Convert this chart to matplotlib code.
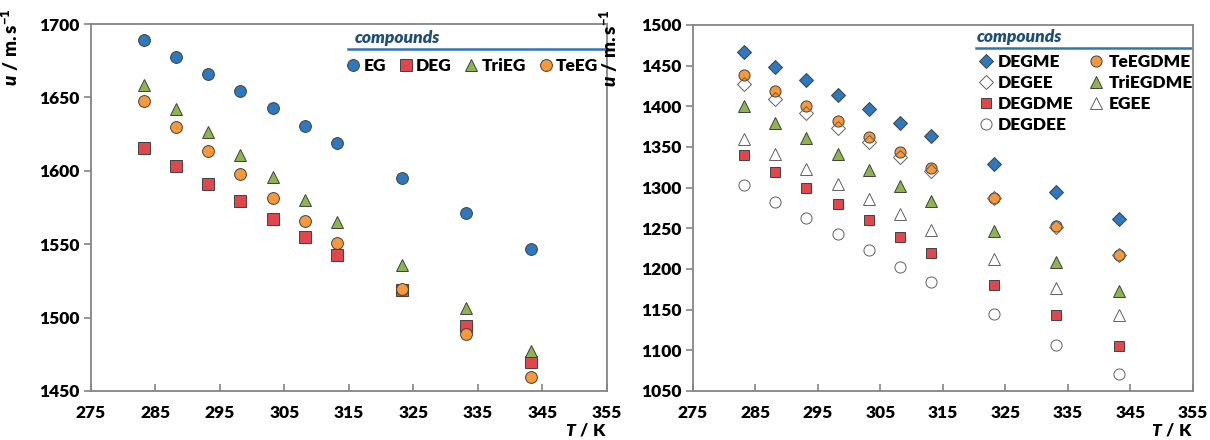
import matplotlib
matplotlib.use("Agg")
import matplotlib.pyplot as plt

plt.rcParams['font.family'] = ['Lato', 'DejaVu Sans']
plt.rcParams['font.weight'] = 'heavy'
plt.rcParams['mathtext.fontset'] = 'custom'
plt.rcParams['mathtext.rm'] = 'Lato:heavy'
plt.rcParams['mathtext.it'] = 'Lato:italic:heavy'
plt.rcParams['mathtext.bf'] = 'Lato:heavy'

# temperatures (K)
T = [283.15, 288.15, 293.15, 298.15, 303.15, 308.15, 313.15, 323.15, 333.15, 343.15]

# left panel: speed of sound (m/s)
EG = [1689.3, 1677.6, 1666.0, 1654.1, 1642.5, 1630.8, 1618.7, 1595.0, 1571.2, 1547.0]
DEG = [1615.3, 1603.2, 1591.1, 1579.2, 1566.9, 1554.8, 1542.7, 1518.5, 1494.1, 1469.9]
TriEG = [1658.2, 1642.2, 1626.7, 1611.0, 1595.7, 1580.4, 1565.3, 1535.6, 1506.4, 1477.2]
TeEG = [1647.5, 1630.1, 1613.7, 1597.7, 1581.7, 1565.8, 1550.5, 1519.6, 1489.0, 1459.4]

# right panel
DEGME = [1467.0, 1448.8, 1431.9, 1414.1, 1397.2, 1379.8, 1362.9, 1329.1, 1295.2, 1261.3]
DEGEE = [1427.7, 1408.7, 1391.4, 1373.6, 1355.9, 1337.7, 1320.4, 1287.4, 1251.9, 1217.6]
DEGDME = [1340.2, 1319.2, 1299.3, 1279.5, 1259.7, 1239.5, 1219.6, 1180.8, 1142.8, 1105.3]
DEGDEE = [1302.6, 1282.4, 1262.6, 1242.7, 1222.9, 1202.7, 1183.7, 1144.9, 1106.9, 1071.4]
TeEGDME = [1438.9, 1419.1, 1400.1, 1381.5, 1362.5, 1343.5, 1324.1, 1287.8, 1252.3, 1217.6]
TriEGDME = [1399.7, 1379.9, 1360.9, 1341.0, 1321.6, 1302.2, 1283.2, 1246.5, 1208.1, 1173.4]
EGEE = [1360.0, 1341.0, 1322.9, 1304.7, 1285.7, 1267.1, 1248.5, 1212.6, 1177.1, 1142.8]

blue = '#2E78BE'
red = '#E0474C'
green = '#8AB550'
orange = '#F7993A'
edge = '#404040'
spine_col = '#858585'
title_col = '#1F4E79'
line_col = '#2E75B6'

fig = plt.figure(figsize=(12.1, 4.4), dpi=100)
ax1 = fig.add_axes([0.0752, 0.1114, 0.4264, 0.834])
ax2 = fig.add_axes([0.5727, 0.1114, 0.4132, 0.832])

def style_axes(ax, ylo, yhi):
	ax.set_xlim(275, 355)
	ax.set_ylim(ylo, yhi)
	ax.set_xticks(range(275, 356, 10))
	ax.set_yticks(range(ylo, yhi + 1, 50))
	for s in ax.spines.values():
		s.set_color(spine_col)
		s.set_linewidth(1.3)
	ax.tick_params(axis='x', direction='in', length=5, width=1.2, color=spine_col, pad=10, labelsize=12.5)
	ax.tick_params(axis='y', direction='out', length=5, width=1.2, color=spine_col, pad=3, labelsize=12.5)
	for lab in ax.get_xticklabels() + ax.get_yticklabels():
		lab.set_fontweight('heavy')
	ax.set_ylabel(r"$\mathit{u}\ \mathbf{/\ m.s^{-1}}$", fontsize=13.5, loc='top')
	ax.set_xlabel(r"$\mathit{T}\ \mathbf{/\ K}$", fontsize=12.5, loc='right')
	ax.xaxis.set_label_coords(1.0, -0.082)

#Left panel
ms = 8.5
kw = dict(linestyle='none', markeredgecolor=edge, markeredgewidth=0.7, markersize=ms)
ax1.plot(T, EG, marker='o', color=blue, label='EG', **kw)
ax1.plot(T, DEG, marker='s', color=red, label='DEG', **dict(kw, markersize=ms - 0.5))
ax1.plot(T, TriEG, marker='^', color=green, label='TriEG', **kw)
ax1.plot(T, TeEG, marker='o', color=orange, label='TeEG', **kw)
style_axes(ax1, 1450, 1700)
ax1.yaxis.set_label_coords(-0.135, 1.044)

ax1.text(0.512, 0.962, "compounds", transform=ax1.transAxes, color=title_col,
	style='italic', fontsize=12.5, va='center', ha='left')
ax1.plot([0.498, 1.0], [0.932, 0.932], transform=ax1.transAxes, color=line_col, lw=1.8, clip_on=False)
ax1.legend(loc='center left', bbox_to_anchor=(0.475, 0.886), ncol=4, frameon=False,
	borderpad=0, handletextpad=0.1, columnspacing=0.62, handlelength=1.0,
	prop={'weight': 'heavy', 'size': 12.5})

#Right panel
ms2 = 8
kw2 = dict(linestyle='none', markeredgewidth=0.7, markersize=ms2)
h_degme, = ax2.plot(T, DEGME, marker='D', color=blue, markeredgecolor=edge, label='DEGME', **dict(kw2, markersize=7))
h_teeg, = ax2.plot(T, TeEGDME, marker='o', color=orange, markeredgecolor=edge, label='TeEGDME', **kw2)
h_degee, = ax2.plot(T, DEGEE, marker='D', markerfacecolor='none', markeredgecolor='#606060', label='DEGEE', **dict(kw2, markersize=7))
h_trieg, = ax2.plot(T, TriEGDME, marker='^', color=green, markeredgecolor=edge, label='TriEGDME', **kw2)
h_degdme, = ax2.plot(T, DEGDME, marker='s', color=red, markeredgecolor=edge, label='DEGDME', **dict(kw2, markersize=7.5))
h_egee, = ax2.plot(T, EGEE, marker='^', markerfacecolor='white', markeredgecolor='#606060', label='EGEE', **kw2)
h_degdee, = ax2.plot(T, DEGDEE, marker='o', markerfacecolor='white', markeredgecolor='#606060', label='DEGDEE', **kw2)
style_axes(ax2, 1050, 1500)
ax2.yaxis.set_label_coords(-0.146, 1.044)

ax2.text(0.568, 0.967, "compounds", transform=ax2.transAxes, color=title_col,
	style='italic', fontsize=12.5, va='center', ha='left')
ax2.plot([0.566, 0.996], [0.937, 0.937], transform=ax2.transAxes, color=line_col, lw=1.8, clip_on=False)
handles = [h_degme, h_degee, h_degdme, h_degdee, h_teeg, h_trieg, h_egee]
ax2.legend(handles=handles, loc='upper left', bbox_to_anchor=(0.551, 0.945), ncol=2, frameon=False,
	borderpad=0, handletextpad=0.2, columnspacing=0.8, handlelength=1.0, labelspacing=0.3,
	prop={'weight': 'heavy', 'size': 12.5})

plt.savefig("out.png", dpi=100)
